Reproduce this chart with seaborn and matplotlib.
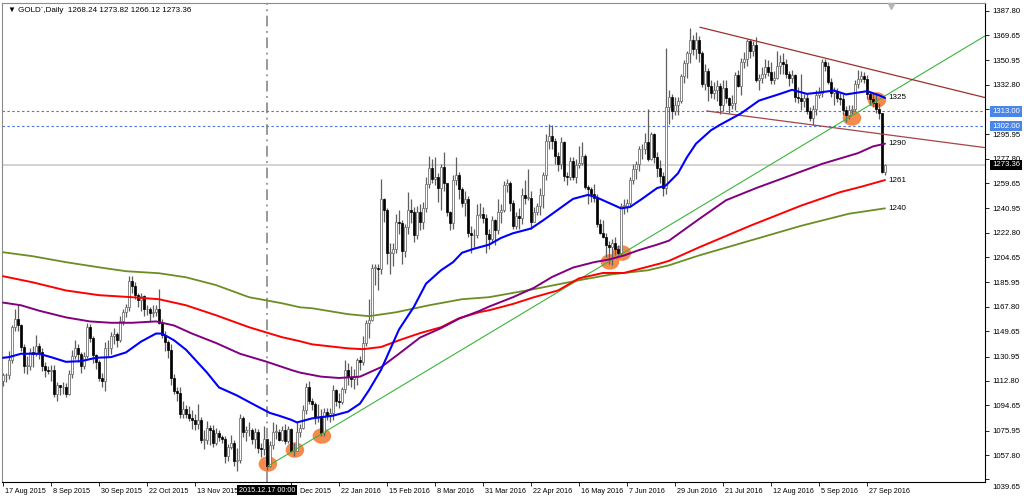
import numpy as np
import matplotlib
matplotlib.use("Agg")
import matplotlib.pyplot as plt
import matplotlib.transforms as mtransforms
from matplotlib.patches import Ellipse
import seaborn as sns

# ---------------- data (daily GOLD bars, 17 Aug 2015 .. 5 Oct 2016) ----------------
opens = [
    1113, 1117, 1117, 1128, 1153,  1159, 1154, 1138, 1124, 1124,  1134, 1133, 1139, 1134, 1124,
    1121, 1120, 1121, 1103, 1110,  1108, 1108, 1103, 1118, 1131,  1137, 1133, 1124, 1131, 1153,
    1145, 1132, 1127, 1115, 1113,  1137, 1137, 1146, 1148, 1143,  1157, 1164, 1168, 1187, 1183,
    1177, 1173, 1176, 1166, 1166,  1163, 1164, 1166, 1156, 1147,  1142, 1136, 1115, 1105, 1104,
    1088, 1092, 1088, 1085, 1084,  1081, 1084, 1069, 1069, 1078,  1076, 1067, 1074, 1071, 1070,
    1057, 1064, 1067, 1053, 1054,  1085, 1075, 1076, 1076, 1070,  1075, 1063, 1062, 1070, 1050,
    1065, 1075, 1075, 1069,  1076, 1068, 1077, 1061,
    1061, 1075, 1078, 1091, 1108,  1098, 1096, 1086, 1087, 1074,  1090, 1087, 1089, 1106, 1098,
    1097, 1107, 1121, 1116, 1114,  1116, 1128, 1127, 1141, 1156,  1158, 1197, 1197, 1196, 1248,
    1240, 1208, 1208, 1211, 1231,  1230, 1209, 1227, 1240, 1238,  1221, 1238, 1231, 1241, 1259,
    1271, 1263, 1264, 1256, 1272,  1260, 1238, 1230, 1262, 1266,  1255, 1245, 1248, 1223,
    1221, 1221, 1236, 1237, 1234,  1222, 1218, 1232, 1225, 1238,  1240, 1258, 1260, 1245, 1228,
    1235, 1234, 1251, 1249, 1249,  1231, 1238, 1243, 1251, 1266,  1291, 1295, 1291, 1280, 1274,
    1290, 1265, 1264, 1276, 1264,  1273, 1275, 1280, 1257, 1255,  1252, 1249, 1229, 1223, 1220,
    1214, 1212, 1215, 1211, 1208,  1243, 1243, 1245, 1262, 1270,  1274, 1285, 1285, 1290, 1278,
    1296, 1279, 1271, 1265, 1256,  1316, 1324, 1313, 1318, 1321,  1339, 1349, 1356, 1366, 1359,
    1366, 1356, 1333, 1343, 1332,  1327, 1329, 1332, 1318, 1330,  1323, 1318, 1319, 1340, 1332,
    1350, 1352, 1365, 1358, 1362,  1336, 1338, 1341, 1346, 1342,  1336, 1338, 1347, 1350, 1348,
    1341, 1338, 1340, 1324, 1323,  1321, 1323, 1313, 1308, 1315,  1325, 1327, 1350, 1347, 1335,
    1327, 1328, 1323, 1322, 1314,  1310, 1314, 1315, 1333, 1337,  1339, 1337, 1326, 1322, 1319,
    1315, 1312, 1268.24,
]
highs = [
    1119, 1119, 1135, 1154, 1166,  1170, 1155, 1140, 1131, 1137,  1139, 1147, 1141, 1137, 1127,
    1124, 1125, 1125, 1112, 1110,  1112, 1111, 1121, 1136, 1143,  1140, 1134, 1134, 1156, 1155,
    1146, 1133, 1128, 1119, 1142,  1143, 1149, 1152, 1149, 1161,  1166, 1170, 1191, 1191, 1186,
    1178, 1178, 1177, 1169, 1168,  1169, 1169, 1181, 1159, 1150,  1143, 1140, 1118, 1108, 1108,
    1098, 1095, 1094, 1091, 1088,  1096, 1086, 1076, 1083, 1080,  1080, 1078, 1076, 1073, 1072,
    1066, 1073, 1069, 1063, 1088,  1087, 1079, 1082, 1078, 1078,  1077, 1067, 1079, 1070, 1068,
    1082, 1081, 1077, 1079,  1081, 1079, 1078, 1067,
    1082, 1081, 1095, 1111, 1113,  1100, 1097, 1096, 1092, 1093,  1093, 1093, 1110, 1107, 1104,
    1108, 1128, 1126, 1124, 1122,  1130, 1131, 1146, 1158, 1174,  1200, 1200, 1200, 1263, 1249,
    1241, 1215, 1215, 1237, 1240,  1232, 1229, 1253, 1248, 1242,  1243, 1244, 1246, 1264, 1280,
    1278, 1279, 1267, 1274, 1283,  1260, 1239, 1266, 1279, 1268,  1257, 1254, 1250, 1228,
    1226, 1244, 1245, 1242, 1237,  1226, 1235, 1233, 1248, 1244,  1261, 1263, 1261, 1247, 1238,
    1241, 1256, 1262, 1270, 1254,  1242, 1245, 1256, 1268, 1296,  1304, 1303, 1293, 1283, 1294,
    1291, 1268, 1279, 1279, 1278,  1287, 1290, 1281, 1258, 1257,  1259, 1252, 1233, 1232, 1223,
    1217, 1218, 1220, 1214, 1245,  1248, 1248, 1264, 1274, 1276,  1287, 1289, 1297, 1315, 1298,
    1297, 1283, 1277, 1268, 1360,  1329, 1326, 1324, 1324, 1341,  1351, 1358, 1375, 1370, 1372,
    1369, 1358, 1348, 1345, 1336,  1335, 1336, 1334, 1336, 1336,  1324, 1325, 1342, 1344, 1353,
    1357, 1367, 1367, 1365, 1368,  1341, 1346, 1352, 1351, 1350,  1343, 1358, 1355, 1356, 1352,
    1343, 1344, 1341, 1331, 1341,  1326, 1326, 1316, 1318, 1329,  1331, 1352, 1352, 1350, 1338,
    1331, 1330, 1327, 1326, 1317,  1318, 1318, 1336, 1344, 1343,  1342, 1340, 1328, 1327, 1326,
    1319, 1312, 1273.82,
]
lows = [
    1109, 1112, 1114, 1126, 1150,  1150, 1135, 1119, 1118, 1121,  1123, 1131, 1129, 1120, 1116,
    1118, 1113, 1101, 1098, 1102,  1103, 1101, 1102, 1115, 1129,  1127, 1119, 1122, 1130, 1142,
    1126, 1122, 1113, 1108, 1105,  1131, 1133, 1140, 1138, 1142,  1154, 1160, 1165, 1178, 1174,
    1168, 1165, 1161, 1162, 1157,  1160, 1161, 1155, 1145, 1135,  1130, 1110, 1103, 1098, 1085,
    1085, 1085, 1083, 1077, 1076,  1077, 1067, 1062, 1066, 1065,  1064, 1065, 1068, 1067, 1052,
    1053, 1062, 1050, 1046, 1052,  1071, 1068, 1072, 1066, 1063,  1059, 1056, 1058, 1047, 1049,
    1062, 1070, 1068, 1068,  1066, 1067, 1060, 1057,
    1061, 1071, 1077, 1088, 1096,  1091, 1081, 1082, 1072, 1072,  1084, 1082, 1084, 1094, 1093,
    1096, 1104, 1110, 1108, 1107,  1110, 1121, 1125, 1139, 1145,  1157, 1184, 1180, 1192, 1231,
    1200, 1192, 1198, 1208, 1222,  1200, 1205, 1222, 1230, 1216,  1218, 1225, 1226, 1238, 1256,
    1260, 1258, 1246, 1240, 1254,  1235, 1225, 1226, 1258, 1248,  1242, 1235, 1220, 1208,
    1212, 1219, 1234, 1230, 1208,  1211, 1215, 1214, 1222, 1230,  1238, 1253, 1239, 1226, 1226,
    1226, 1229, 1244, 1247, 1226,  1231, 1236, 1236, 1241, 1262,  1285, 1285, 1274, 1269, 1270,
    1261, 1258, 1262, 1262, 1260,  1271, 1273, 1255, 1244, 1246,  1246, 1227, 1222, 1219, 1205,
    1200, 1199, 1206, 1205, 1206,  1237, 1238, 1243, 1259, 1263,  1269, 1278, 1281, 1276, 1277,
    1275, 1264, 1260, 1250, 1252,  1304, 1307, 1310, 1310, 1319,  1334, 1338, 1349, 1355, 1352,
    1350, 1331, 1329, 1321, 1323,  1322, 1321, 1311, 1313, 1319,  1312, 1315, 1314, 1331, 1325,
    1345, 1347, 1353, 1354, 1335,  1329, 1334, 1338, 1339, 1333,  1333, 1337, 1341, 1341, 1338,
    1332, 1334, 1320, 1319, 1314,  1316, 1311, 1306, 1303, 1310,  1323, 1324, 1343, 1333, 1324,
    1318, 1320, 1318, 1310, 1305,  1307, 1311, 1313, 1330, 1335,  1334, 1322, 1318, 1316, 1312,
    1307, 1267, 1266.12,
]
closes = [
    1117, 1117, 1128, 1153, 1159,  1154, 1138, 1124, 1124, 1134,  1133, 1139, 1134, 1124, 1121,
    1120, 1121, 1103, 1110, 1108,  1108, 1103, 1118, 1131, 1137,  1133, 1124, 1131, 1153, 1145,
    1132, 1127, 1115, 1113, 1137,  1137, 1146, 1148, 1143, 1157,  1164, 1168, 1187, 1183, 1177,
    1173, 1176, 1166, 1166, 1163,  1164, 1166, 1156, 1147, 1142,  1136, 1115, 1105, 1104, 1088,
    1092, 1088, 1085, 1084, 1081,  1084, 1069, 1069, 1078, 1076,  1067, 1074, 1071, 1070, 1057,
    1064, 1067, 1053, 1054, 1085,  1075, 1076, 1076, 1070, 1075,  1063, 1062, 1070, 1050, 1065,
    1075, 1075, 1069, 1076,  1068, 1077, 1061, 1061,
    1075, 1078, 1091, 1108, 1098,  1096, 1086, 1087, 1074, 1090,  1087, 1089, 1106, 1098, 1097,
    1107, 1121, 1116, 1114, 1116,  1128, 1127, 1141, 1156, 1158,  1197, 1197, 1196, 1248, 1240,
    1208, 1208, 1211, 1231, 1230,  1209, 1227, 1240, 1238, 1221,  1238, 1231, 1241, 1259, 1271,
    1263, 1264, 1256, 1272, 1260,  1238, 1230, 1262, 1266, 1255,  1245, 1248, 1223, 1221,
    1221, 1236, 1237, 1234, 1222,  1218, 1232, 1225, 1238, 1240,  1258, 1260, 1245, 1228, 1235,
    1234, 1251, 1249, 1249, 1231,  1238, 1243, 1251, 1266, 1291,  1295, 1291, 1280, 1274, 1290,
    1265, 1264, 1276, 1264, 1273,  1275, 1280, 1257, 1255, 1252,  1249, 1229, 1223, 1220, 1214,
    1212, 1215, 1211, 1208, 1243,  1243, 1245, 1262, 1270, 1274,  1285, 1285, 1290, 1278, 1296,
    1279, 1271, 1265, 1256, 1316,  1324, 1313, 1318, 1321, 1339,  1349, 1356, 1366, 1359, 1366,
    1356, 1333, 1343, 1332, 1327,  1329, 1332, 1318, 1330, 1323,  1318, 1319, 1340, 1332, 1350,
    1352, 1365, 1358, 1362, 1336,  1338, 1341, 1346, 1342, 1336,  1338, 1347, 1350, 1348, 1341,
    1338, 1340, 1324, 1323, 1321,  1323, 1313, 1308, 1315, 1325,  1327, 1350, 1347, 1335, 1327,
    1328, 1323, 1322, 1314, 1310,  1314, 1315, 1333, 1337, 1339,  1337, 1326, 1322, 1319, 1315,
    1312, 1268, 1273.36,
]

# moving averages (bar index, price)
blue_bars = [0, 2, 6, 12, 16, 21, 26, 31, 36, 41, 46, 51, 53, 57, 61, 68, 72, 78, 83, 89,
             92, 96, 98, 103, 110, 115, 119, 122, 126, 129, 132, 137, 141, 146, 150, 153, 157, 162, 166, 170,
             176, 180, 185, 190, 195, 198, 202, 206, 209, 213, 218, 221, 225, 228, 231, 236, 239, 246, 252, 259,
             263, 268, 272, 277, 281, 288, 292, 294]
blue_vals = [1130, 1130.5, 1133, 1133, 1130.5, 1127, 1127.5, 1130, 1130.5, 1134, 1142, 1148, 1148, 1143, 1136,
             1119, 1108, 1102, 1096, 1089, 1087, 1084, 1082, 1085, 1087, 1090, 1096, 1106, 1121, 1136,
             1151, 1168, 1185, 1195, 1201, 1208, 1211, 1214, 1219, 1222.5, 1226, 1232, 1240, 1248, 1251,
             1249, 1245, 1241, 1242, 1248, 1256, 1258, 1267, 1279, 1289, 1299, 1303, 1311.5, 1321, 1326,
             1329, 1326, 1327, 1328.5, 1325.6, 1328, 1325, 1323]
purple_bars = [0, 6, 12, 21, 29, 36, 43, 51, 57, 63, 71, 79, 88, 96, 99, 106, 112, 119, 122, 126,
               132, 139, 146, 152, 159, 162, 170, 177, 183, 190, 197, 202, 207, 212, 218, 222, 232, 241, 251, 262,
               273, 285, 290, 294]
purple_vals = [1171, 1169, 1165, 1160, 1157, 1156, 1156, 1157, 1154, 1148, 1141, 1133, 1127, 1121, 1119,
               1116, 1115, 1116, 1119, 1123, 1133, 1145, 1152, 1159, 1165, 1168, 1175, 1182, 1190, 1197,
               1201, 1203, 1206, 1210, 1214, 1217, 1233, 1247, 1256, 1265, 1274, 1282, 1287, 1289]
red_bars = [0, 10, 21, 32, 43, 52, 61, 71, 82, 93, 99, 103, 115, 120, 126, 132, 139, 146, 152, 159,
            162, 170, 177, 185, 192, 200, 207, 213, 219, 222, 232, 249, 266, 279, 286, 294]
red_vals = [1190.6, 1186, 1180, 1176.5, 1175, 1173.5, 1169, 1161.6, 1152.7, 1145.3, 1142.3, 1140, 1137,
            1136.4, 1138, 1143, 1148.3, 1152.7, 1159.4, 1164, 1165.3, 1170, 1175, 1180, 1189, 1193, 1193,
            1196.5, 1200, 1202, 1212, 1228, 1243, 1253, 1257, 1262]
olive_bars = [0, 10, 21, 32, 41, 52, 61, 71, 82, 93, 99, 103, 115, 122, 131, 142, 153, 162, 177, 192,
              203, 215, 222, 232, 249, 266, 282, 294]
olive_vals = [1208.4, 1205.4, 1201, 1197.2, 1194.3, 1192.8, 1189.8, 1184, 1175, 1170.5, 1167.5, 1166.8,
              1162.4, 1160.9, 1163.8, 1169, 1173.5, 1175, 1181, 1187.6, 1192, 1195, 1198.7, 1206, 1217,
              1228, 1237, 1241]
ma_labels = ["1325", "1290", "1261", "1240"]

# drawn objects: trend lines (bar, price) end points, levels, highlighted lows/highs
green_line = [(88.3, 1049.6), (327.3, 1369.0)]
channel_upper = [(232.3, 1375.5), (327.3, 1323.3)]
channel_lower = [(234.6, 1313.3), (327.3, 1286.1)]
h_levels = [1313.00, 1302.00]
last_price = 1273.36
circle_bars = [88.3, 97.3, 106.3, 202.3, 206.3, 283.0, 291.3]
circle_prices = [1051.1, 1061.5, 1071.9, 1201.2, 1207.8, 1308.1, 1321.5]
crosshair_bar = 88
crosshair_label = "2015.12.17 00:00"

# the 7 Dec 2015 label is hidden under the crosshair date box in the original
x_tick_bars = [0, 16, 32, 48, 64, 96, 112, 128, 144, 160, 176, 192, 208, 224, 240, 256, 272, 288]
x_tick_labels = ["17 Aug 2015", "8 Sep 2015", "30 Sep 2015", "22 Oct 2015", "13 Nov 2015",
                 "Dec 2015", "22 Jan 2016", "15 Feb 2016", "8 Mar 2016", "31 Mar 2016", "22 Apr 2016",
                 "16 May 2016", "7 Jun 2016", "29 Jun 2016", "21 Jul 2016", "12 Aug 2016", "5 Sep 2016",
                 "27 Sep 2016"]
y_ticks = [1387.80, 1369.65, 1350.95, 1332.80, 1314.65, 1295.95, 1277.80, 1259.65, 1240.95, 1222.80,
           1204.65, 1185.95, 1167.80, 1149.65, 1130.95, 1112.80, 1094.65, 1075.95, 1057.80, 1039.65]
title = "\u25bc GOLD`,Daily  1268.24 1273.82 1266.12 1273.36"

# ---------------- drawing ----------------
sns.set_style("white")
plt.rcParams["font.family"] = ["Liberation Sans", "DejaVu Sans"]
FS = 5.6
FSX = 5.2

fig = plt.figure(figsize=(10.24, 4.99), dpi=100)
fig.patch.set_facecolor("white")
ax = fig.add_axes([2 / 1024, 17 / 499, 983 / 1024, 479 / 499])
ax.set_facecolor("white")

o = np.array(opens, float); h = np.array(highs, float)
l = np.array(lows, float); c = np.array(closes, float)
idx = np.arange(len(c))
up = c >= o

# highlighted circles (under the candles)
for b, p in zip(circle_bars, circle_prices):
    ax.add_patch(Ellipse((b, p), width=6.2, height=11.5, facecolor="#f5803e",
                         edgecolor="none", alpha=0.92, zorder=1))

# candles
ax.vlines(idx, l, h, color="#5e5e5e", lw=0.9, zorder=3)
ax.bar(idx[up], np.maximum(c - o, 0.35)[up], bottom=o[up], width=0.66,
       color="white", edgecolor="#6a6a6a", linewidth=0.55, zorder=4)
ax.bar(idx[~up], (o - c)[~up], bottom=c[~up], width=0.66,
       color="black", edgecolor="black", linewidth=0.5, zorder=4)

# horizontal levels
for lv in h_levels:
    ax.axhline(lv, color="#4a74e8", lw=0.8, ls=(0, (2.2, 2.2)), zorder=2)
ax.axhline(last_price, color="#c8c8c8", lw=1.1, zorder=1.5)

# crosshair
ax.axvline(crosshair_bar, color="#7d7d7d", lw=1.1, ls=(0, (7, 3, 1.2, 3)), zorder=2)

# trend lines
for pts, col, lw in [(green_line, "#3cb43c", 0.8), (channel_upper, "#9c3030", 0.9),
                     (channel_lower, "#a34545", 0.9)]:
    ax.plot([pts[0][0], pts[1][0]], [pts[0][1], pts[1][1]], color=col, lw=lw, zorder=5)

# moving averages via seaborn
for bars, vals, col, lw in [(olive_bars, olive_vals, "#6b8e23", 1.3),
                            (red_bars, red_vals, "#ff0000", 1.4),
                            (purple_bars, purple_vals, "#800080", 1.4),
                            (blue_bars, blue_vals, "#0000ff", 1.5)]:
    sns.lineplot(x=bars, y=vals, ax=ax, color=col, linewidth=lw, zorder=6,
                 estimator=None, sort=False, legend=False)

for vals, lab in zip([blue_vals, purple_vals, red_vals, olive_vals], ma_labels):
    ax.text(295.3, vals[-1], lab, fontsize=5.8, ha="left", va="center", color="black", zorder=8)

# axes limits / ticks
ax.set_xlim(-0.333, 327.333)
ax.set_ylim(1037.75, 1393.5)
ax.yaxis.tick_right()
ax.set_yticks(y_ticks)
ax.set_yticklabels([f"{v:.2f}" for v in y_ticks])
ax.set_xticks(x_tick_bars)
ax.set_xticklabels(x_tick_labels)
ax.tick_params(axis="y", which="both", right=True, left=False, length=3, width=0.6,
               pad=2, labelsize=FS, colors="black")
ax.tick_params(axis="x", which="both", bottom=True, length=3, width=0.6, pad=1.5,
               labelsize=FSX, colors="black")
fig.canvas.draw()
for lab, b in zip(ax.get_xticklabels(), x_tick_bars):
    lab.set_ha("left")
    dx = 9 if b == 96 else 2
    lab.set_transform(lab.get_transform() + mtransforms.ScaledTranslation(dx / 100, 0, fig.dpi_scale_trans))
ylabs = ax.get_yticklabels()
ylabs[-1].set_transform(ylabs[-1].get_transform() +
                        mtransforms.ScaledTranslation(0, -7 / 100, fig.dpi_scale_trans))
ax.set_xlabel(""); ax.set_ylabel("")

for s in ["right", "bottom"]:
    ax.spines[s].set_color("black"); ax.spines[s].set_linewidth(0.8)
for s in ["left", "top"]:
    ax.spines[s].set_color("#8c8c8c"); ax.spines[s].set_linewidth(0.8)

# price boxes on the right axis
ytr = mtransforms.blended_transform_factory(ax.transAxes, ax.transData)
for lv in h_levels:
    ax.text(1.0 + 7 / 983, lv, f"{lv:.2f}", transform=ytr, ha="left", va="center",
            fontsize=FS, color="white", clip_on=False, zorder=10,
            bbox=dict(boxstyle="square,pad=0.22", fc="#4a86e8", ec="none"))
ax.text(1.0 + 7 / 983, last_price, f"{last_price:.2f}", transform=ytr, ha="left", va="center",
        fontsize=FS, color="white", clip_on=False, zorder=10,
        bbox=dict(boxstyle="square,pad=0.22", fc="black", ec="none"))

# crosshair date box
xtr = mtransforms.blended_transform_factory(ax.transData, ax.transAxes)
ax.text(crosshair_bar, -0.017, crosshair_label, transform=xtr, ha="center", va="center",
        fontsize=FSX, color="white", clip_on=False, zorder=10,
        bbox=dict(boxstyle="square,pad=0.25", fc="black", ec="none"))

# small shift marker at top
ax.plot([296], [0.993], marker="v", ms=4, color="#b4b4b4", transform=xtr, clip_on=False, zorder=9)

# title
ax.text(6 / 983, 1 - 7 / 479, title, transform=ax.transAxes, fontsize=FS + 0.2, ha="left",
        va="center", color="black", zorder=10)

fig.savefig("out.png", dpi=100, facecolor="white")
